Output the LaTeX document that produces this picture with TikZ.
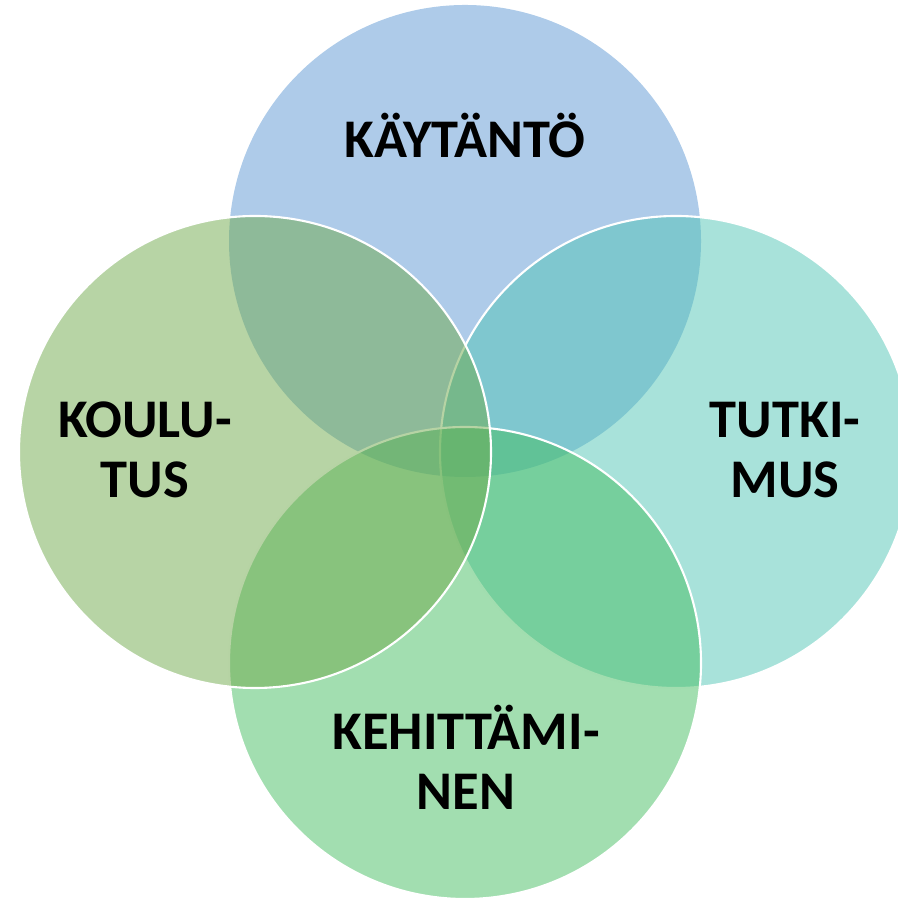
\documentclass[tikz,border=0pt]{standalone}
\usepackage{fontspec}
\setmainfont{Carlito}
\usetikzlibrary{positioning}
\definecolor{kaytantoblue}{RGB}{93,151,211}
\definecolor{koulutusgreen}{RGB}{111,169,75}
\definecolor{tutkimusteal}{RGB}{81,197,181}
\definecolor{kehitysgreen}{RGB}{69,189,97}
\tikzset{
	venn/.style={fill opacity=0.5, draw=white, line width=1.2pt},
	vennlabel/.style={font=\fontsize{31}{34}\selectfont\bfseries, align=center, text=black, inner sep=0pt}
}

\begin{document}
\begin{tikzpicture}[x=0.02cm, y=0.02cm]
			%%%%% START %%%%%
			
			\clip (0, 0) rectangle (898, 898);
			
			\fill[kaytantoblue, fill opacity=0.5] (465, 657) circle (236);
			\filldraw[venn, fill=tutkimusteal] (676, 446) circle (236);
			\filldraw[venn, fill=kehitysgreen] (465, 235) circle (236);
			\filldraw[venn, fill=koulutusgreen] (255, 446) circle (236);
			
			\node[vennlabel, anchor=base] (kaytanto) at (465, 740) {KÄYTÄNTÖ};
			\node[vennlabel] (koulutus) at (145, 448) {KOULU-\\TUS};
			\node[vennlabel] (tutkimus) at (785, 448) {TUTKI-\\MUS};
			\node[vennlabel] (kehittaminen) at (466, 141) {KEHITTÄMI-\\NEN};
			
			%%%%% END %%%%%
\end{tikzpicture}
\end{document}
